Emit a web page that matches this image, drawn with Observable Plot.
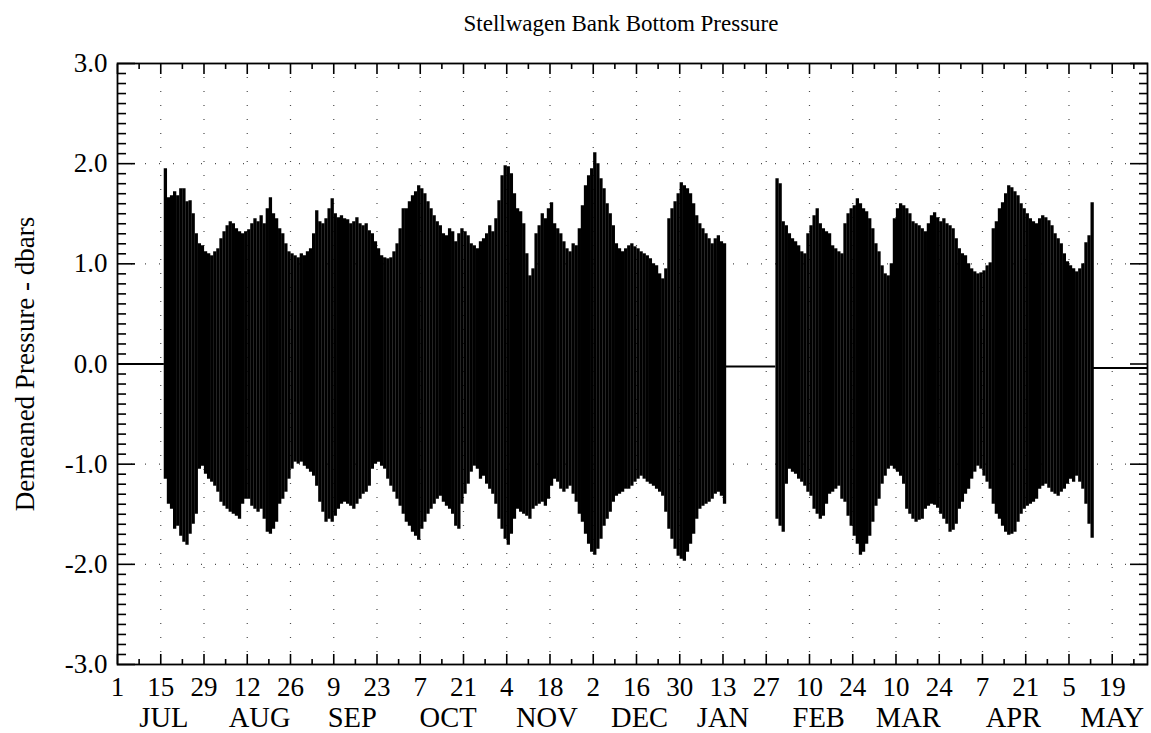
<!DOCTYPE html>
<html>
<head>
<meta charset="utf-8">
<script src="https://cdn.jsdelivr.net/npm/d3@7"></script>
<script src="https://cdn.jsdelivr.net/npm/@observablehq/plot@0.6"></script>
<style>
  body { margin: 0; background: #fff; }
  #wrap { position: relative; width: 1151px; height: 733px; background: #fff; font-family: "Liberation Serif", "Times New Roman", serif; }
  #title { position: absolute; left: 621px; top: 12px; transform: translateX(-50%); font-size: 23px; line-height: 1; white-space: nowrap; color: #000; }
  #chart { position: absolute; left: 0; top: 40px; }
</style>
</head>
<body>
<div id="wrap">
  <div id="title">Stellwagen Bank Bottom Pressure</div>
  <div id="chart"></div>
</div>
<script>
// ---- Data (daily high / low envelope of demeaned bottom pressure, dbars) ----
const startA = "1989-07-16"; // first day of first record
const highA = [
  1.95, 1.66, 1.68, 1.72, 1.68, 1.75, 1.75, 1.62, 1.63, 1.50,
  1.30, 1.20, 1.18, 1.12, 1.10, 1.08, 1.12, 1.15, 1.25, 1.32,
  1.38, 1.42, 1.40, 1.35, 1.32, 1.30, 1.32, 1.34, 1.40, 1.45,
  1.42, 1.48, 1.40, 1.55, 1.66, 1.50, 1.45, 1.35, 1.30, 1.20,
  1.12, 1.10, 1.08, 1.06, 1.10, 1.08, 1.12, 1.15, 1.30, 1.53,
  1.42, 1.40, 1.45, 1.55, 1.65, 1.50, 1.46, 1.48, 1.45, 1.44,
  1.40, 1.42, 1.46, 1.40, 1.38, 1.40, 1.33, 1.30, 1.22, 1.15,
  1.08, 1.06, 1.05, 1.06, 1.12, 1.20, 1.35, 1.55, 1.55, 1.62,
  1.68, 1.72, 1.78, 1.75, 1.70, 1.62, 1.55, 1.48, 1.42, 1.38,
  1.30, 1.28, 1.35, 1.32, 1.22, 1.30, 1.35, 1.32, 1.28, 1.20,
  1.18, 1.15, 1.22, 1.25, 1.30, 1.38, 1.32, 1.45, 1.63, 1.88,
  1.98, 1.97, 1.90, 1.70, 1.55, 1.52, 1.40, 1.10, 0.88, 0.95,
  1.30, 1.38, 1.50, 1.45, 1.55, 1.61, 1.40, 1.35, 1.30, 1.22,
  1.15, 1.12, 1.20, 1.18, 1.35, 1.58, 1.78, 1.88, 1.95, 2.11,
  2.00, 1.85, 1.75, 1.60, 1.50, 1.38, 1.20, 1.15, 1.12, 1.15,
  1.18, 1.20, 1.17, 1.15, 1.12, 1.10, 1.08, 1.05, 1.00, 0.98,
  0.90, 0.85, 0.95, 1.45, 1.55, 1.62, 1.70, 1.81, 1.78, 1.75,
  1.70, 1.60, 1.48, 1.40, 1.35, 1.30, 1.25, 1.20, 1.25, 1.28,
  1.22, 1.20
];
const lowA = [
  -1.15, -1.40, -1.45, -1.65, -1.62, -1.72, -1.78, -1.81, -1.70, -1.60,
  -1.50, -1.05, -1.02, -1.10, -1.15, -1.18, -1.22, -1.28, -1.38, -1.42,
  -1.45, -1.48, -1.50, -1.52, -1.55, -1.40, -1.35, -1.35, -1.42, -1.45,
  -1.48, -1.45, -1.55, -1.68, -1.70, -1.65, -1.58, -1.40, -1.35, -1.28,
  -1.15, -1.05, -0.98, -1.00, -0.98, -1.02, -1.05, -1.08, -1.12, -1.22,
  -1.38, -1.48, -1.58, -1.55, -1.58, -1.52, -1.45, -1.40, -1.38, -1.40,
  -1.42, -1.45, -1.40, -1.35, -1.30, -1.28, -1.22, -1.05, -1.00, -0.98,
  -1.02, -1.05, -1.15, -1.22, -1.28, -1.35, -1.42, -1.50, -1.58, -1.62,
  -1.68, -1.72, -1.76, -1.65, -1.58, -1.50, -1.45, -1.40, -1.35, -1.32,
  -1.38, -1.42, -1.45, -1.50, -1.62, -1.65, -1.40, -1.30, -1.20, -1.08,
  -1.02, -1.05, -1.15, -1.12, -1.20, -1.25, -1.30, -1.40, -1.55, -1.65,
  -1.75, -1.81, -1.70, -1.55, -1.45, -1.48, -1.50, -1.52, -1.55, -1.45,
  -1.42, -1.40, -1.38, -1.42, -1.35, -1.22, -1.15, -1.18, -1.25, -1.28,
  -1.25, -1.22, -1.30, -1.38, -1.50, -1.58, -1.70, -1.80, -1.88, -1.91,
  -1.85, -1.75, -1.62, -1.55, -1.48, -1.38, -1.32, -1.30, -1.28, -1.25,
  -1.25, -1.22, -1.18, -1.15, -1.12, -1.15, -1.18, -1.20, -1.22, -1.25,
  -1.28, -1.32, -1.48, -1.65, -1.75, -1.85, -1.92, -1.95, -1.97, -1.88,
  -1.80, -1.70, -1.55, -1.45, -1.42, -1.40, -1.38, -1.35, -1.30, -1.28,
  -1.32, -1.40
];
const startB = "1990-01-30"; // first day of second record
const highB = [
  1.85, 1.80, 1.42, 1.38, 1.30, 1.25, 1.22, 1.18, 1.12, 1.10,
  1.30, 1.38, 1.48, 1.55, 1.40, 1.35, 1.32, 1.30, 1.18, 1.15,
  1.12, 1.10, 1.40, 1.50, 1.55, 1.58, 1.65, 1.60, 1.55, 1.52,
  1.45, 1.35, 1.20, 1.12, 0.98, 0.90, 0.88, 1.00, 1.45, 1.55,
  1.60, 1.58, 1.55, 1.50, 1.42, 1.40, 1.38, 1.35, 1.32, 1.40,
  1.48, 1.51, 1.46, 1.42, 1.45, 1.40, 1.38, 1.35, 1.25, 1.15,
  1.10, 1.08, 1.00, 0.95, 0.92, 0.90, 0.91, 0.93, 0.98, 1.01,
  1.35, 1.42, 1.55, 1.61, 1.70, 1.78, 1.76, 1.72, 1.68, 1.60,
  1.55, 1.50, 1.45, 1.42, 1.40, 1.45, 1.48, 1.46, 1.43, 1.38,
  1.30, 1.25, 1.20, 1.10, 1.02, 0.98, 0.95, 0.92, 0.95, 1.00,
  1.21, 1.28, 1.61
];
const lowB = [
  -1.55, -1.62, -1.68, -1.20, -1.05, -1.08, -1.10, -1.15, -1.18, -1.22,
  -1.28, -1.32, -1.45, -1.50, -1.55, -1.52, -1.40, -1.30, -1.28, -1.25,
  -1.22, -1.35, -1.38, -1.52, -1.62, -1.72, -1.80, -1.91, -1.88, -1.80,
  -1.72, -1.58, -1.42, -1.35, -1.20, -1.12, -1.05, -1.02, -1.05, -1.08,
  -1.12, -1.20, -1.45, -1.50, -1.55, -1.58, -1.56, -1.55, -1.45, -1.42,
  -1.40, -1.41, -1.44, -1.50, -1.55, -1.60, -1.68, -1.66, -1.60, -1.45,
  -1.38, -1.30, -1.25, -1.15, -1.08, -1.02, -1.05, -1.12, -1.18, -1.25,
  -1.40, -1.50, -1.55, -1.62, -1.68, -1.71, -1.70, -1.68, -1.58, -1.50,
  -1.45, -1.42, -1.40, -1.38, -1.35, -1.25, -1.22, -1.20, -1.24, -1.28,
  -1.30, -1.32, -1.28, -1.25, -1.20, -1.15, -1.18, -1.12, -1.18, -1.25,
  -1.40, -1.60, -1.74
];
// flat (no-data) segments of the record
const flatStart = ["1989-07-01T00:00Z", "1990-01-13T12:00Z", "1990-05-12T12:00Z"];
const flatEnd   = ["1989-07-16T04:00Z", "1990-01-30T02:00Z", "1990-05-30T12:00Z"];
const flatLevel = [0, -0.025, -0.04];

// axis ticks / labels
const xDomain = ["1989-07-01T00:00Z", "1990-05-30T10:00Z"];
const majorTicks = ["1989-07-01","1989-07-15","1989-07-29","1989-08-12","1989-08-26","1989-09-09",
  "1989-09-23","1989-10-07","1989-10-21","1989-11-04","1989-11-18","1989-12-02","1989-12-16",
  "1989-12-30","1990-01-13","1990-01-27","1990-02-10","1990-02-24","1990-03-10","1990-03-24",
  "1990-04-07","1990-04-21","1990-05-05","1990-05-19"];
const monthLabels = ["JUL","AUG","SEP","OCT","NOV","DEC","JAN","FEB","MAR","APR","MAY"];
const monthLabelDates = ["1989-07-16","1989-08-16","1989-09-15","1989-10-16","1989-11-17",
  "1989-12-17","1990-01-13","1990-02-13","1990-03-14","1990-04-17","1990-05-19"];
const yMajor = [-3, -2, -1, 0, 1, 2, 3];
const yGrid = [-2, -1, 1, 2];

// ---- build ----
const DAY = 864e5;
const toDate = s => new Date(s.length === 10 ? s + "T00:00Z" : s);
function segment(start, highs, lows) {
  const t0 = +toDate(start) + DAY / 2;
  return highs.map((h, i) => ({date: new Date(t0 + i * DAY), high: h, low: lows[i]}));
}
const daily = segment(startA, highA, lowA).concat(segment(startB, highB, lowB));
const flats = flatStart.map((s, i) => ({x1: toDate(s), x2: toDate(flatEnd[i]), y: flatLevel[i]}));
const xEnd = toDate(xDomain[1]);
const majors = majorTicks.map(toDate);
const minors = majors.map(d => new Date(+d + 7 * DAY)).filter(d => d < xEnd);
const months = monthLabelDates.map(toDate);
const yMinor = d3.range(-30, 31).map(i => i / 10).filter(v => Math.abs(v - Math.round(v)) > 1e-9);

const font = "Liberation Serif, Times New Roman, serif";
const fs = 27;
const blank = () => "";

const chart = Plot.plot({
  width: 1151,
  height: 693,
  marginTop: 23,
  marginBottom: 69,
  marginLeft: 117,
  marginRight: 4,
  x: {type: "utc", domain: [toDate(xDomain[0]), xEnd]},
  y: {domain: [-3, 3]},
  style: {fontFamily: font, fontSize: fs + "px", color: "#000", background: "#fff", overflow: "visible"},
  marks: [
    // dotted grid
    Plot.ruleX(majors.slice(1), {stroke: "#000", strokeWidth: 1.2, strokeOpacity: 0.7, strokeDasharray: "1,13"}),
    Plot.ruleY(yGrid, {stroke: "#000", strokeWidth: 1.2, strokeOpacity: 0.7, strokeDasharray: "1,13"}),
    // no-data flat line
    Plot.ruleY(flats, {x1: "x1", x2: "x2", y: "y", stroke: "#000", strokeWidth: 2}),
    // tidal envelope
    Plot.ruleX(daily, {x: "date", y1: "low", y2: "high", stroke: "#000", strokeWidth: 3.3}),
    // frame
    Plot.frame({stroke: "#000", strokeWidth: 1.8}),
    // inward ticks, all four sides
    Plot.axisX({anchor: "bottom", ticks: majors, tickSize: -10, tickFormat: blank, label: null, strokeWidth: 1.6}),
    Plot.axisX({anchor: "bottom", ticks: minors, tickSize: -5, tickFormat: blank, label: null, strokeWidth: 1.6}),
    Plot.axisX({anchor: "top", ticks: majors, tickSize: -10, tickFormat: blank, label: null, strokeWidth: 1.6}),
    Plot.axisX({anchor: "top", ticks: minors, tickSize: -5, tickFormat: blank, label: null, strokeWidth: 1.6}),
    Plot.axisY({anchor: "left", ticks: yMajor, tickSize: -18, tickFormat: blank, label: null, strokeWidth: 1.6}),
    Plot.axisY({anchor: "left", ticks: yMinor, tickSize: -9, tickFormat: blank, label: null, strokeWidth: 1.6}),
    Plot.axisY({anchor: "right", ticks: yMajor, tickSize: -18, tickFormat: blank, label: null, strokeWidth: 1.6}),
    Plot.axisY({anchor: "right", ticks: yMinor, tickSize: -9, tickFormat: blank, label: null, strokeWidth: 1.6}),
    // labels
    Plot.axisX({anchor: "bottom", ticks: majors, tickSize: 0, tickPadding: 12, tickFormat: d3.utcFormat("%-d"), label: null, fontSize: fs, fontFamily: font}),
    Plot.axisX({anchor: "bottom", ticks: months, tickSize: 0, tickPadding: 42,
      tickFormat: d => monthLabels[months.findIndex(m => +m === +d)], label: null, fontSize: 28.5, fontFamily: font}),
    Plot.axisY({anchor: "left", ticks: yMajor, tickSize: 0, tickPadding: 10, tickFormat: d => d.toFixed(1), label: null, fontSize: fs, fontFamily: font}),
    Plot.text(["Demeaned Pressure - dbars"], {frameAnchor: "left", textAnchor: "middle", rotate: -90, dx: -92, fontSize: fs, fontFamily: font})
  ]
});
document.getElementById("chart").appendChild(chart);
</script>
</body>
</html>
